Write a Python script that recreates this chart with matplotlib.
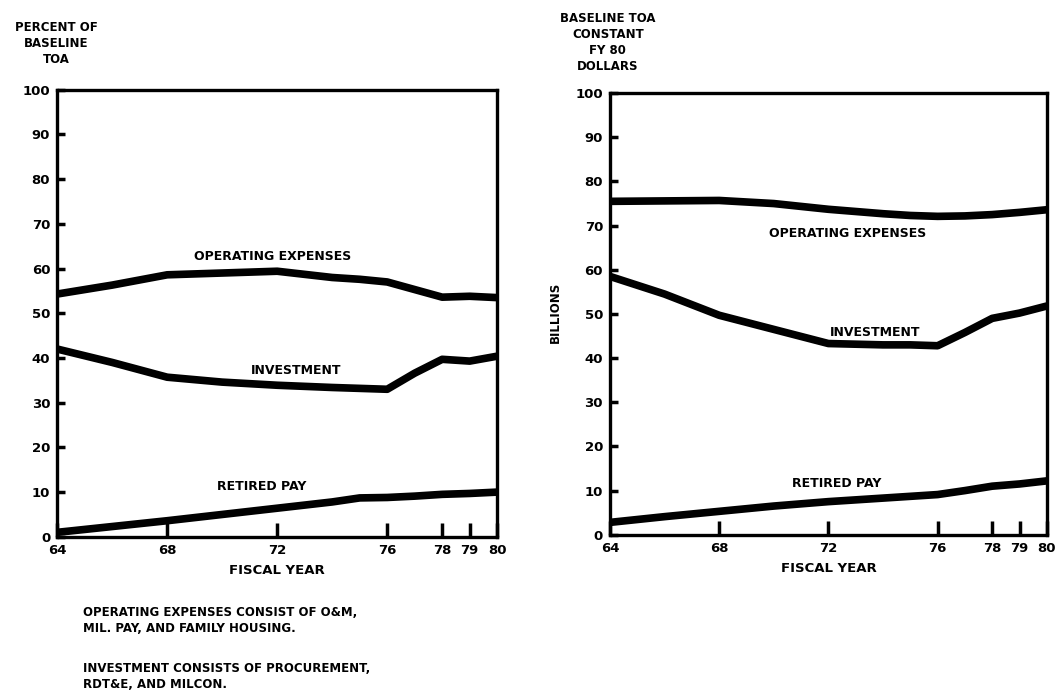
import matplotlib.pyplot as plt

years = [64, 66, 68, 70, 72, 74, 75, 76, 77, 78, 79, 80]

# left panel: percent of baseline TOA
pct_opex = [54.3, 56.3, 58.6, 59.0, 59.4, 58.0, 57.6, 57.0, 55.3, 53.6, 53.8, 53.5]
pct_invest = [42.0, 39.0, 35.7, 34.6, 33.9, 33.4, 33.2, 33.0, 36.6, 39.7, 39.3, 40.4]
pct_retired = [1.0, 2.3, 3.6, 5.0, 6.4, 7.8, 8.7, 8.8, 9.1, 9.5, 9.7, 10.0]

# right panel: billions, constant FY 80 dollars
bil_opex = [75.5, 75.6, 75.7, 75.0, 73.7, 72.7, 72.3, 72.1, 72.2, 72.5, 73.0, 73.6]
bil_invest = [58.5, 54.5, 49.7, 46.5, 43.3, 43.0, 43.0, 42.8, 45.8, 49.0, 50.2, 51.8]
bil_retired = [2.8, 4.1, 5.3, 6.5, 7.5, 8.3, 8.7, 9.1, 10.0, 11.0, 11.5, 12.2]

xticks = [64, 68, 72, 76, 78, 79, 80]
yticks = [0, 10, 20, 30, 40, 50, 60, 70, 80, 90, 100]

plt.rcParams['font.family'] = 'DejaVu Sans'
plt.rcParams['font.weight'] = 'bold'

fig = plt.figure(figsize=(10.59, 6.9), dpi=100)
ax1 = fig.add_axes([0.054, 0.222, 0.4155, 0.648])
ax2 = fig.add_axes([0.576, 0.225, 0.4125, 0.640])


def style(ax):
    ax.set_xlim(64, 80)
    ax.set_ylim(0, 100)
    ax.set_xticks(xticks)
    ax.set_xticklabels([str(t) for t in xticks], fontsize=9.5, fontweight='heavy')
    ax.set_yticks(yticks)
    ax.set_yticklabels([str(t) for t in yticks], fontsize=9.5, fontweight='heavy')
    ax.tick_params(direction='in', length=6, width=2.5, pad=5)
    ax.tick_params(axis='x', length=10)
    for s in ax.spines.values():
        s.set_linewidth(2.4)
    ax.set_xlabel('FISCAL YEAR', fontsize=9.5, fontweight='heavy', labelpad=5)


for ax, a, b, c in [(ax1, pct_opex, pct_invest, pct_retired),
                    (ax2, bil_opex, bil_invest, bil_retired)]:
    ax.plot(years, a, color='black', lw=5.5, solid_capstyle='butt')
    ax.plot(years, b, color='black', lw=5.5, solid_capstyle='butt')
    ax.plot(years, c, color='black', lw=5.5, solid_capstyle='butt')
    style(ax)

kw = dict(fontsize=9, fontweight='heavy', ha='center', va='center')
ax1.text(71.85, 62.7, 'OPERATING EXPENSES', **kw)
ax1.text(72.7, 37.3, 'INVESTMENT', **kw)
ax1.text(71.45, 11.2, 'RETIRED PAY', **kw)
ax2.text(72.7, 68.3, 'OPERATING EXPENSES', **kw)
ax2.text(73.7, 45.9, 'INVESTMENT', **kw)
ax2.text(72.3, 11.5, 'RETIRED PAY', **kw)

fig.text(0.053, 0.97, 'PERCENT OF\nBASELINE\nTOA', fontsize=8.5, fontweight='heavy',
         ha='center', va='top', linespacing=1.3)
fig.text(0.574, 0.983, 'BASELINE TOA\nCONSTANT\nFY 80\nDOLLARS', fontsize=8.5,
         fontweight='heavy', ha='center', va='top', linespacing=1.3)
fig.text(0.524, 0.548, 'BILLIONS', fontsize=8.5, fontweight='heavy', rotation=90,
         ha='center', va='center')

fig.text(0.078, 0.101, 'OPERATING EXPENSES CONSIST OF O&M,\nMIL. PAY, AND FAMILY HOUSING.',
         fontsize=8.5, fontweight='heavy', ha='left', va='center', linespacing=1.3)
fig.text(0.078, 0.02, 'INVESTMENT CONSISTS OF PROCUREMENT,\nRDT&E, AND MILCON.',
         fontsize=8.5, fontweight='heavy', ha='left', va='center', linespacing=1.3)

plt.savefig('out.png', dpi=100)
